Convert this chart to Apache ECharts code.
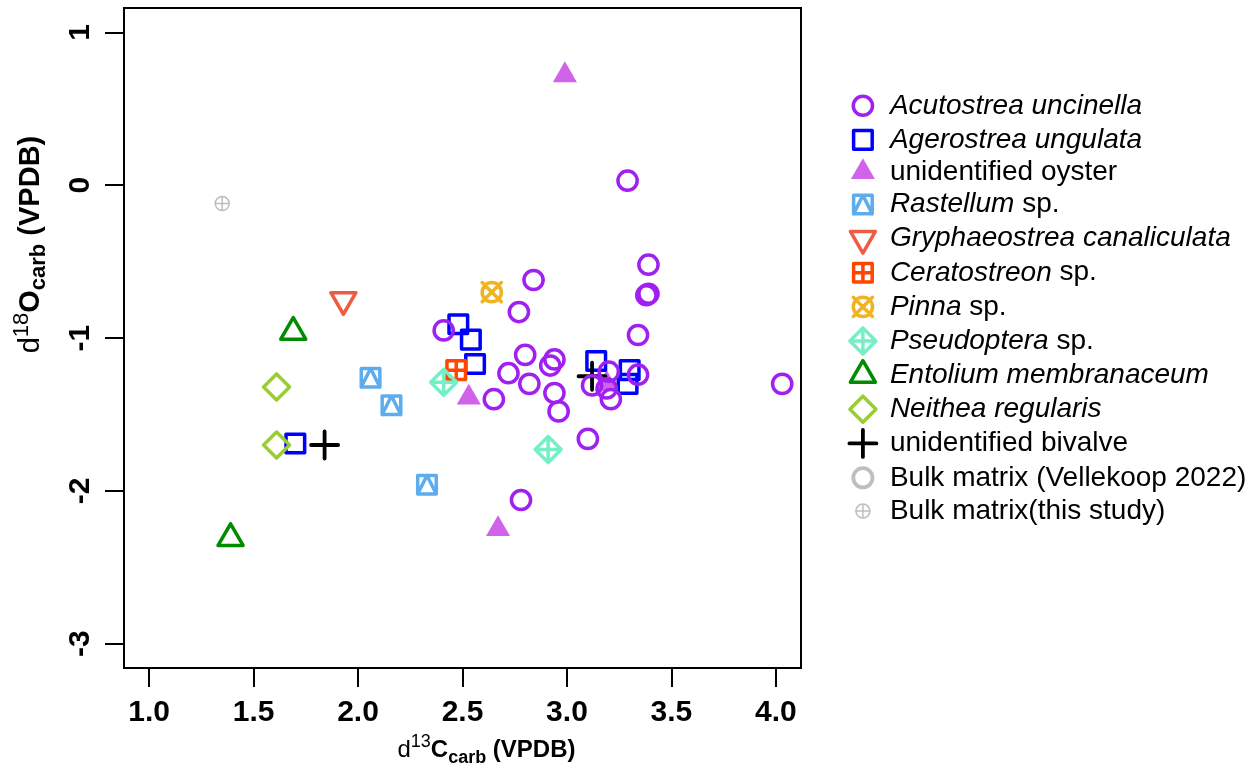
<!DOCTYPE html>
<html>
<head>
<meta charset="utf-8">
<title>d13C vs d18O</title>
<script src="https://cdn.jsdelivr.net/npm/echarts@6/dist/echarts.min.js"></script>
<style>
  html, body { margin: 0; padding: 0; background: #ffffff; }
  #main { width: 1260px; height: 772px; }
</style>
</head>
<body>
<div id="main"></div>
<script>
'use strict';

// axis ticks
var xTicks = [1.0, 1.5, 2.0, 2.5, 3.0, 3.5, 4.0];
var yTicks = [-3, -2, -1, 0, 1];

// [d13C, d18O] per taxon
var acutostrea = [
    [3.29, 0.03], [3.39, -0.52], [2.84, -0.62], [3.39, -0.71], [3.38, -0.72],
    [2.77, -0.83], [2.41, -0.95], [3.34, -0.98], [2.80, -1.11], [2.94, -1.14],
    [2.92, -1.18], [2.72, -1.23], [3.20, -1.22], [3.34, -1.24], [2.82, -1.30],
    [3.12, -1.31], [3.19, -1.33], [2.94, -1.36], [2.65, -1.40], [3.21, -1.40],
    [2.96, -1.48], [3.10, -1.66], [2.78, -2.06], [4.03, -1.30]
];
var agerostrea = [[2.48, -0.91], [2.54, -1.01], [2.56, -1.17], [3.14, -1.15], [3.30, -1.21], [3.29, -1.30], [1.70, -1.69]];
var oyster = [[2.99, 0.72], [2.53, -1.39], [3.19, -1.30], [2.67, -2.25]];
var rastellum = [[2.06, -1.26], [2.16, -1.44], [2.33, -1.96]];
var gryphaeostrea = [[1.93, -0.75]];
var ceratostreon = [[2.47, -1.21]];
var pinna = [[2.64, -0.70]];
var pseudoptera = [[2.41, -1.29], [2.91, -1.73]];
var entolium = [[1.69, -0.96], [1.39, -2.31]];
var neithea = [[1.61, -1.32], [1.61, -1.70]];
var bivalve = [[1.84, -1.70], [3.12, -1.25]];
var bulkVellekoop = [];
var bulkThisStudy = [[1.35, -0.12]];

// R-like pch glyphs, drawn in a 32x32 frame (the two moves pin the frame)
var F = 'M0 0M32 32';
var CIRCLE = 'M6.4 16A9.6 9.6 0 1 1 25.6 16A9.6 9.6 0 1 1 6.4 16Z';
var SQUARE = 'M6.7 6.7L25.3 6.7L25.3 25.3L6.7 25.3Z';
var DIAMOND = 'M16 3L29 16L16 29L3 16Z';
var sym = {
    pch1: 'path://' + F + CIRCLE,
    pch0: 'path://' + F + SQUARE,
    pch17: 'path://' + F + 'M16 2.1L28 22.9L4 22.9Z',
    pch14: 'path://' + F + SQUARE + 'M6.7 25.3L16 6.7L25.3 25.3',
    pch6: 'path://' + F + 'M16 30.4L28.5 8.8L3.5 8.8Z',
    pch12: 'path://' + F + SQUARE + 'M6.7 16L25.3 16M16 6.7L16 25.3',
    pch13: 'path://' + F + CIRCLE + 'M6.4 6.4L25.6 25.6M6.4 25.6L25.6 6.4',
    pch9: 'path://' + F + DIAMOND + 'M3 16L29 16M16 3L16 29',
    pch2: 'path://' + F + 'M16 1.6L28.5 23.2L3.5 23.2Z',
    pch5: 'path://' + F + DIAMOND,
    pch3: 'path://' + F + 'M2.5 16L29.5 16M16 2.5L16 29.5',
    pch10: 'path://' + F + 'M9 16A7 7 0 1 1 23 16A7 7 0 1 1 9 16ZM9 16L23 16M16 9L16 23'
};

// legend order
var taxa = [
    { name: 'Acutostrea uncinella', it: 'Acutostrea uncinella', rest: '', data: acutostrea, s: 'pch1', c: '#a020f0', w: 3.5 },
    { name: 'Agerostrea ungulata', it: 'Agerostrea ungulata', rest: '', data: agerostrea, s: 'pch0', c: '#0000ff', w: 3.5 },
    { name: 'unidentified oyster', it: '', rest: 'unidentified oyster', data: oyster, s: 'pch17', c: '#d063ea', w: 0 },
    { name: 'Rastellum sp.', it: 'Rastellum', rest: ' sp.', data: rastellum, s: 'pch14', c: '#5cacee', w: 3.5 },
    { name: 'Gryphaeostrea canaliculata', it: 'Gryphaeostrea canaliculata', rest: '', data: gryphaeostrea, s: 'pch6', c: '#ee5c42', w: 3.5 },
    { name: 'Ceratostreon sp.', it: 'Ceratostreon', rest: ' sp.', data: ceratostreon, s: 'pch12', c: '#ff4500', w: 3.5 },
    { name: 'Pinna sp.', it: 'Pinna', rest: ' sp.', data: pinna, s: 'pch13', c: '#eeb422', w: 3.5 },
    { name: 'Pseudoptera sp.', it: 'Pseudoptera', rest: ' sp.', data: pseudoptera, s: 'pch9', c: '#76eec6', w: 3.5 },
    { name: 'Entolium membranaceum', it: 'Entolium membranaceum', rest: '', data: entolium, s: 'pch2', c: '#008b00', w: 3.5 },
    { name: 'Neithea regularis', it: 'Neithea regularis', rest: '', data: neithea, s: 'pch5', c: '#9acd32', w: 3.5 },
    { name: 'unidentified bivalve', it: '', rest: 'unidentified bivalve', data: bivalve, s: 'pch3', c: '#000000', w: 3.8 },
    { name: 'Bulk matrix (Vellekoop 2022)', it: '', rest: 'Bulk matrix (Vellekoop 2022)', data: bulkVellekoop, s: 'pch1', c: '#bebebe', w: 3.8 },
    { name: 'Bulk matrix(this study)', it: '', rest: 'Bulk matrix(this study)', data: bulkThisStudy, s: 'pch10', c: '#bebebe', w: 1.5 }
];
// plotting order (later on top)
var drawOrder = [2, 1, 3, 4, 5, 6, 7, 8, 9, 10, 0, 11, 12];

var FONT = '"Liberation Sans", Arial, Helvetica, sans-serif';

function styleOf(t) {
    var filled = t.w === 0;
    return {
        color: filled ? t.c : 'rgba(0,0,0,0)',
        borderColor: t.c,
        borderWidth: t.w,
        borderJoin: 'round',
        borderCap: 'round',
        opacity: 1
    };
}

var series = drawOrder.map(function (i) {
    var t = taxa[i];
    return {
        name: t.name,
        type: 'scatter',
        data: t.data,
        symbol: sym[t.s],
        symbolSize: 32,
        symbolKeepAspect: true,
        itemStyle: styleOf(t),
        emphasis: { disabled: true },
        silent: true
    };
});

var legendData = taxa.map(function (t) {
    return { name: t.name, icon: sym[t.s], itemStyle: styleOf(t) };
});

function titleRich(big, small) {
    return {
        n: { fontFamily: FONT, fontSize: big, fontWeight: 'normal', lineHeight: big + 10, color: '#000' },
        sup: { fontFamily: FONT, fontSize: small, fontWeight: 'normal', lineHeight: small, verticalAlign: 'top', color: '#000' },
        b: { fontFamily: FONT, fontSize: big, fontWeight: 'bold', lineHeight: big + 10, color: '#000' },
        sub: { fontFamily: FONT, fontSize: small, fontWeight: 'bold', lineHeight: small, verticalAlign: 'bottom', color: '#000' }
    };
}

var chart = echarts.init(document.getElementById('main'), null, { renderer: 'canvas' });
chart.setOption({
    backgroundColor: '#ffffff',
    animation: false,
    grid: {
        left: 124, right: 459, top: 8, bottom: 101,
        show: true, borderColor: '#000', borderWidth: 2, backgroundColor: 'transparent'
    },
    legend: {
        orient: 'vertical',
        left: 840, top: 83,
        itemWidth: 32, itemHeight: 32, itemGap: -1.4,
        selectedMode: false,
        data: legendData,
        formatter: function (name) {
            var t = taxa.filter(function (d) { return d.name === name; })[0];
            return (t.it ? '{i|' + t.it + '}' : '') + (t.rest ? '{r|' + t.rest + '}' : '');
        },
        textStyle: {
            fontFamily: FONT, fontSize: 28, color: '#000', lineHeight: 32,
            padding: [0, 0, 0, 6],
            rich: {
                i: { fontFamily: FONT, fontSize: 28, fontStyle: 'italic', color: '#000', lineHeight: 32 },
                r: { fontFamily: FONT, fontSize: 28, color: '#000', lineHeight: 32 }
            }
        }
    },
    xAxis: {
        type: 'value',
        min: 0.88, max: 4.12,
        axisLine: { show: false, onZero: false },
        splitLine: { show: false },
        axisTick: { show: true, inside: false, length: 19, customValues: xTicks, lineStyle: { color: '#000', width: 2 } },
        axisLabel: {
            customValues: xTicks, margin: 30,
            fontFamily: FONT, fontSize: 30, fontWeight: 'bold', color: '#000',
            formatter: function (v) { return Number(v).toFixed(1); }
        },
        name: '{n|d}{sup|13}{b|C}{sub|carb}{b| (VPDB)}',
        nameLocation: 'middle',
        nameGap: 60,
        nameTextStyle: { rich: titleRich(24, 18), padding: [0, 0, 0, 48] }
    },
    yAxis: {
        type: 'value',
        min: -3.16, max: 1.16,
        axisLine: { show: false, onZero: false },
        splitLine: { show: false },
        axisTick: { show: true, inside: false, length: 19, customValues: yTicks, lineStyle: { color: '#000', width: 2 } },
        axisLabel: {
            customValues: yTicks, margin: 28, rotate: 90,
            fontFamily: FONT, fontSize: 30, fontWeight: 'bold', color: '#000',
            formatter: function (v) { return String(v); }
        },
        name: '{n|d}{sup|18}{b|O}{sub|carb}{b| (VPDB)}',
        nameLocation: 'middle',
        nameRotate: 90,
        nameGap: 74,
        nameTextStyle: { rich: titleRich(29, 22), padding: [0, 0, 0, 187] }
    },
    series: series
});
</script>
</body>
</html>
